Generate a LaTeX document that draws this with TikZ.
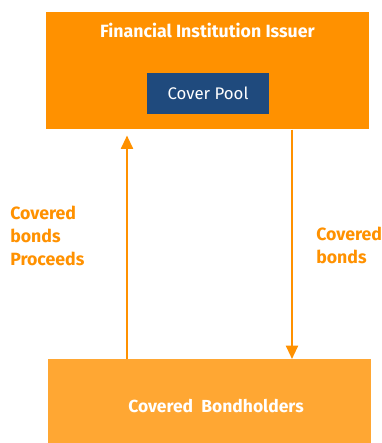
\documentclass[tikz,border=0pt]{standalone}
\usepackage{fontspec}
\setmainfont{Fira Sans}
\usepackage{tikz}
\usetikzlibrary{arrows.meta,positioning}
\definecolor{issuerorange}{rgb}{1,0.569,0}
\definecolor{holderorange}{rgb}{1,0.655,0.2}
\definecolor{poolblue}{rgb}{0.12,0.29,0.49}

\begin{document}
\begin{tikzpicture}[line cap=butt,line join=miter,x=0.75pt,y=-0.75pt,
    box/.style={minimum width=242.25pt,inner sep=0pt,anchor=north west},
    flow/.style={draw=issuerorange,line width=1.5pt,-{Triangle[width=9pt,length=10pt]}},
    flowlabel/.style={text=issuerorange,font=\fontsize{13.3}{17.25}\selectfont\bfseries,align=left,anchor=north west,inner sep=0pt}]
                    \useasboundingbox (0,0) rectangle (382,443);
                    % issuer with its pool
                    \node[box,fill=issuerorange,minimum height=87.75pt] (issuer) at (46,12) {};
                    \node[text=white,font=\fontsize{13.3}{15}\selectfont\bfseries] (title) at (207.5,30) {Financial Institution Issuer};
                    \node[fill=poolblue,text=white,minimum width=91.5pt,minimum height=30.75pt,inner sep=0pt,
                          font=\fontsize{12.6}{15}\selectfont] (pool) at (208,93.5) {Cover Pool};
                    % holders
                    \node[box,fill=holderorange,minimum height=66pt] (holders) at (48,359) {};
                    \node[text=white,font=\fontsize{13.1}{15}\selectfont\bfseries] (hname) at (216,406) {Covered\ \ Bondholders};
                    % flows between them
                    \coordinate (up) at (127,0);
                    \coordinate (down) at (292,0);
                    \draw[flow,shorten >=4.5pt] (holders.north -| up) -- (issuer.south -| up);
                    \draw[flow] (issuer.south -| down) -- (holders.north -| down);
                    \node[flowlabel] (proceeds) at (10,206) {Covered\\bonds\\Proceeds};
                    \node[flowlabel] (bonds) at (316,227) {Covered\\bonds};
                \end{tikzpicture}
\end{document}
